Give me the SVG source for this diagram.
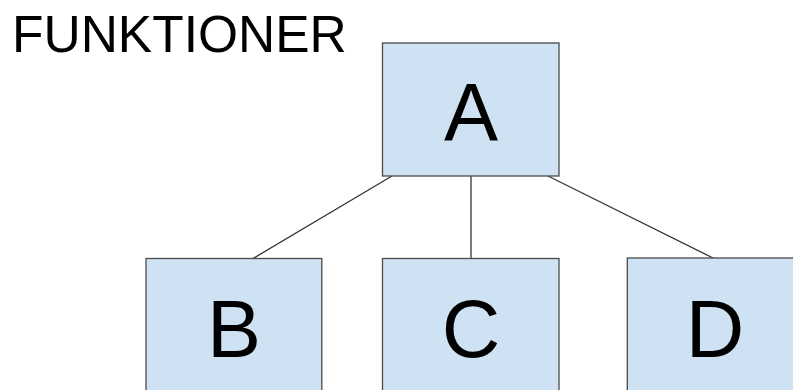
<svg xmlns="http://www.w3.org/2000/svg" width="793" height="390" viewBox="0 0 793 390">
  <style>
    .box { fill: #cfe2f3; stroke: #4a4a4a; stroke-width: 1.3; }
    .lbl { font-family: "Liberation Sans", Arial, sans-serif; font-size: 81px; fill: #000; text-anchor: middle; }
    .title { font-family: "Liberation Sans", Arial, sans-serif; font-size: 51.5px; fill: #000; }
    .edge { stroke: #333; stroke-width: 1.3; fill: none; }
  </style>
  <rect width="793" height="390" fill="#fff"/>

  <text class="title" x="12" y="52">FUNKTIONER</text>

  <!-- tree edges -->
  <g id="connectors">
    <line class="edge" x1="392" y1="176" x2="253" y2="258.5"/>
    <line class="edge" x1="471" y1="176" x2="471" y2="258.5"/>
    <line class="edge" x1="548" y1="176" x2="714" y2="258.5"/>
  </g>

  <g id="node-A">
    <rect class="box" x="382.5" y="43" width="176.5" height="133"/>
    <text class="lbl" x="471" y="140">A</text>
  </g>
  <g id="node-B">
    <rect class="box" x="146" y="258.5" width="175.8" height="150"/>
    <text class="lbl" x="234" y="357">B</text>
  </g>
  <g id="node-C">
    <rect class="box" x="382.5" y="258.5" width="176.5" height="150"/>
    <text class="lbl" x="471" y="357">C</text>
  </g>
  <g id="node-D">
    <rect class="box" x="627.3" y="258" width="176.5" height="150"/>
    <text class="lbl" x="715" y="357">D</text>
  </g>
</svg>
